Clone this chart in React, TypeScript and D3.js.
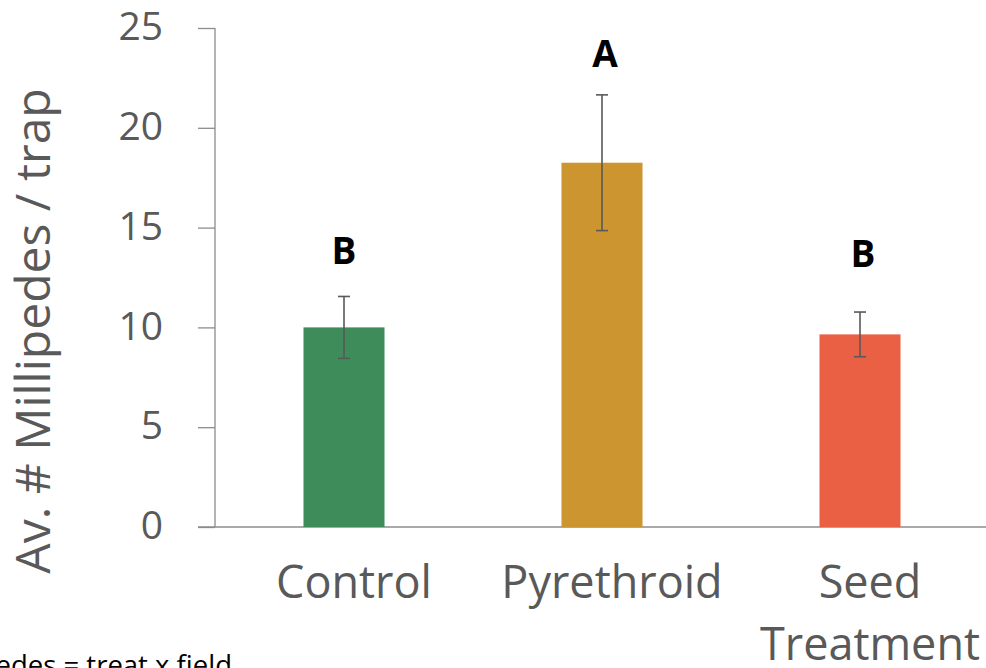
import React, { useEffect, useRef } from 'react';
import * as d3 from 'd3';

const categories = ['Control', 'Pyrethroid', 'Seed Treatment'];
const means = [10.0, 18.25, 9.65];
const errors = [1.55, 3.4, 1.12];
const letters = ['B', 'A', 'B'];
const colors = ['#3e8c59', '#cc952f', '#ea6045'];
const yTicks = [0, 5, 10, 15, 20, 25];

const FONT = '"Open Sans", "Noto Sans", sans-serif';
const GREY = '#595959';

const App = () => {
  const ref = useRef<SVGSVGElement>(null);

  useEffect(() => {
    if (!ref.current) return;
    const svg = d3.select(ref.current);
    svg.selectAll('*').remove();

    const left = 215;
    const right = 989;
    const top = 28;
    const bottom = 527;

    const x = d3.scaleBand().domain(categories).range([left, right]).paddingInner(0.686).paddingOuter(0.343);
    const y = d3.scaleLinear().domain([0, 25]).range([bottom, top]);

    // y axis
    const yAxis = svg.append('g').attr('transform', `translate(${left},0)`)
      .call(d3.axisLeft(y).tickValues(yTicks).tickSize(17).tickPadding(35));
    yAxis.select('.domain').attr('stroke', '#8c8c8c').attr('stroke-width', 1.3).attr('d', `M0,${top}V${bottom}`);
    yAxis.selectAll('.tick line').attr('stroke', '#8c8c8c').attr('stroke-width', 1.3);
    yAxis.selectAll('.tick text')
      .attr('fill', GREY).attr('dy', '0.3em').style('font-family', FONT).style('font-size', '39px');

    // baseline
    svg.append('line')
      .attr('x1', left - 17).attr('x2', 986)
      .attr('y1', y(0)).attr('y2', y(0))
      .attr('stroke', '#8c8c8c').attr('stroke-width', 1.5);

    const data = categories.map((c, i) => ({ c, m: means[i], e: errors[i], l: letters[i], col: colors[i] }));

    svg.selectAll('.bar').data(data).enter().append('rect')
      .attr('x', d => x(d.c)!)
      .attr('width', x.bandwidth())
      .attr('y', d => y(d.m))
      .attr('height', d => y(0) - y(d.m))
      .attr('fill', d => d.col);

    const cx = (d: { c: string }) => x(d.c)! + x.bandwidth() / 2;

    const eb = svg.selectAll('.err').data(data).enter().append('g');
    eb.append('line').attr('x1', cx).attr('x2', cx)
      .attr('y1', d => y(d.m + d.e)).attr('y2', d => y(d.m - d.e))
      .attr('stroke', GREY).attr('stroke-width', 1.6);
    eb.append('line').attr('x1', d => cx(d) - 6).attr('x2', d => cx(d) + 6)
      .attr('y1', d => y(d.m + d.e)).attr('y2', d => y(d.m + d.e))
      .attr('stroke', GREY).attr('stroke-width', 1.6);
    eb.append('line').attr('x1', d => cx(d) - 6).attr('x2', d => cx(d) + 6)
      .attr('y1', d => y(d.m - d.e)).attr('y2', d => y(d.m - d.e))
      .attr('stroke', GREY).attr('stroke-width', 1.6);

    // significance letters
    const letterY = [264, 67, 267];
    svg.selectAll('.letter').data(data).enter().append('text')
      .attr('x', (d, i) => cx(d) + (i === 0 ? 0 : 3))
      .attr('y', (d, i) => letterY[i])
      .attr('text-anchor', 'middle')
      .attr('fill', '#000')
      .style('font-family', FONT).style('font-weight', 'bold').style('font-size', '37px')
      .text(d => d.l);

    // x labels
    const xl = svg.selectAll('.xl').data(data).enter().append('text')
      .attr('text-anchor', 'middle')
      .attr('fill', GREY)
      .style('font-family', FONT).style('font-size', '45px');
    xl.each(function (d) {
      const words = d.c === 'Seed Treatment' ? ['Seed', 'Treatment'] : [d.c];
      const t = d3.select(this);
      words.forEach((w, k) => {
        t.append('tspan').attr('x', cx(d) + 10).attr('y', 598 + k * 62).text(w);
      });
    });

    // y title
    svg.append('text')
      .attr('transform', `translate(50,${331}) rotate(-90)`)
      .attr('text-anchor', 'middle')
      .attr('fill', GREY)
      .style('font-family', FONT).style('font-size', '48px')
      .text('Av. # Millipedes / trap');

    // footnote (partly cut off at the page edge, as in the source slide)
    svg.append('text')
      .attr('x', 232).attr('y', 675)
      .attr('text-anchor', 'end')
      .attr('fill', '#000')
      .style('font-family', FONT).style('font-size', '27.5px')
      .text('Millipedes = treat x field');
  }, []);

  return (
    <div style={{ position: 'absolute', left: 0, top: 0, width: 986, height: 668, overflow: 'hidden', background: '#fff' }}>
      <svg ref={ref} width={986} height={668} style={{ display: 'block' }} />
    </div>
  );
};

export default App;
